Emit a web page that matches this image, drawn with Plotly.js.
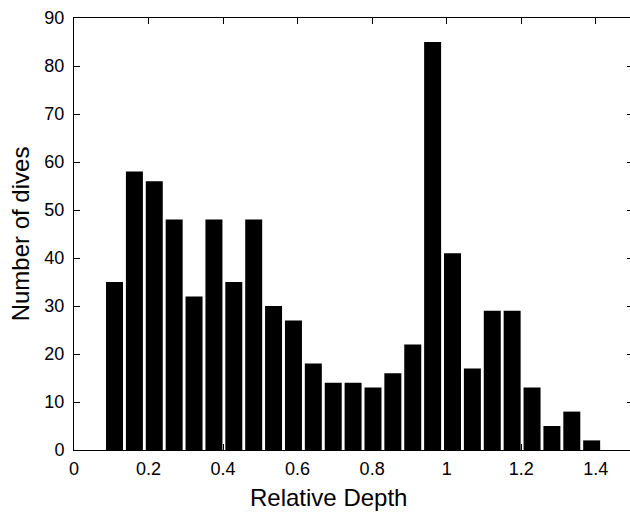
<!DOCTYPE html>
<html>
<head>
<meta charset="utf-8">
<script src="https://cdn.plot.ly/plotly-3.0.1.min.js"></script>
<style>
html, body { margin: 0; padding: 0; overflow: hidden; background: #fff; }
#chart { width: 640px; height: 513px; }
</style>
</head>
<body>
<div id="chart"></div>
<script>
// Bin centers (relative depth)
const binCenters = [0.1087, 0.1621, 0.2154, 0.2688, 0.3221, 0.3755, 0.4288, 0.4822,
  0.5355, 0.5889, 0.6422, 0.6956, 0.7489, 0.8023, 0.8556, 0.9090, 0.9623, 1.0157,
  1.0690, 1.1224, 1.1757, 1.2291, 1.2824, 1.3358, 1.3891];
// Number of dives per bin
const diveCounts = [35, 58, 56, 48, 32, 48, 35, 48, 30, 27, 18, 14, 14, 13, 16, 22,
  85, 41, 17, 29, 29, 13, 5, 8, 2];
// Axis ticks
const xTickVals = [0, 0.2, 0.4, 0.6, 0.8, 1, 1.2, 1.4];
const xTickText = ['0', '0.2', '0.4', '0.6', '0.8', '1', '1.2', '1.4'];
const yTickVals = [0, 10, 20, 30, 40, 50, 60, 70, 80, 90];

const FONT = 'Liberation Sans, Arial, Helvetica, sans-serif';

const trace = {
  type: 'bar',
  x: binCenters,
  y: diveCounts,
  marker: { color: '#000000', line: { width: 0 } },
  hoverinfo: 'x+y'
};

const layout = {
  width: 640,
  height: 513,
  margin: { l: 74, r: 7.25, t: 17.5, b: 63 },
  paper_bgcolor: '#ffffff',
  plot_bgcolor: '#ffffff',
  bargap: 0.145,
  showlegend: false,
  font: { family: FONT, color: '#000000', size: 18 },
  xaxis: {
    range: [0, 1.5],
    tickvals: xTickVals,
    ticktext: xTickText,
    ticks: 'inside',
    ticklen: 6,
    tickwidth: 1,
    tickcolor: '#000000',
    showline: true,
    linecolor: '#000000',
    linewidth: 1,
    mirror: 'ticks',
    showgrid: false,
    zeroline: false,
    tickfont: { family: FONT, size: 18, color: '#000000' },
    ticklabelstandoff: 2
  },
  yaxis: {
    range: [0, 90],
    tickvals: yTickVals,
    ticks: 'inside',
    ticklen: 6,
    tickwidth: 1,
    tickcolor: '#000000',
    showline: true,
    linecolor: '#000000',
    linewidth: 1,
    mirror: 'ticks',
    showgrid: false,
    zeroline: false,
    tickfont: { family: FONT, size: 18, color: '#000000' },
    ticklabelstandoff: 5,
    title: { text: 'Number of dives', font: { family: FONT, size: 24, color: '#000000' }, standoff: 7 }
  },
  annotations: [{
    text: 'Relative Depth',
    xref: 'paper', yref: 'paper',
    x: 0.456, y: -0.0,
    xanchor: 'center', yanchor: 'top',
    yshift: -32,
    showarrow: false,
    font: { family: FONT, size: 24, color: '#000000' }
  }]
};

Plotly.newPlot('chart', [trace], layout, { displayModeBar: false, staticPlot: true });
</script>
</body>
</html>
